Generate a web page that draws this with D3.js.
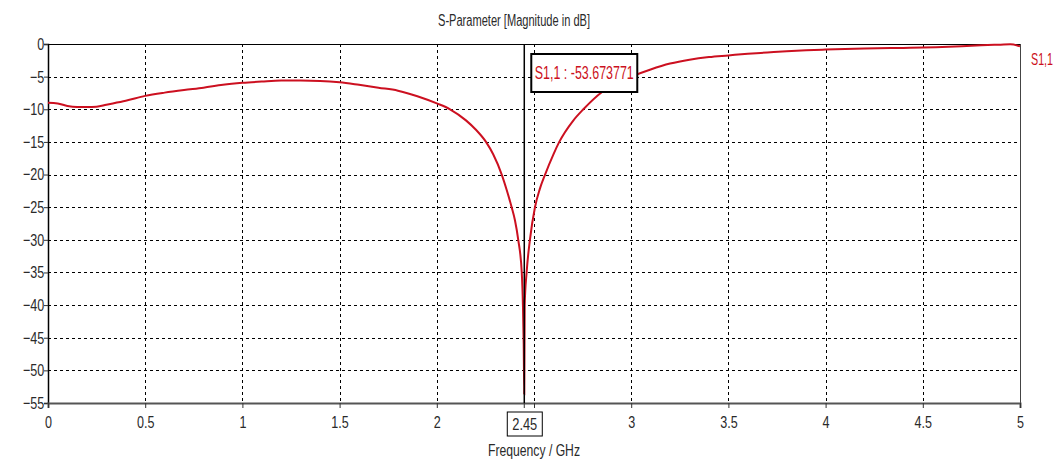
<!DOCTYPE html>
<html>
<head>
<meta charset="utf-8">
<script src="https://cdn.jsdelivr.net/npm/d3@7"></script>
<style>
  body { margin: 0; background: #fff; }
  svg text { font-family: "Liberation Sans", "DejaVu Sans", sans-serif; }
</style>
</head>
<body>
<svg width="1058" height="460"></svg>
<script>
// S1,1 magnitude in dB
var freq = [0, 0.05, 0.1, 0.15, 0.2, 0.25, 0.3, 0.4, 0.5, 0.6, 0.7, 0.8, 0.9, 1.0,
    1.1, 1.2, 1.3, 1.4, 1.5, 1.6, 1.7, 1.8, 1.9, 2.0, 2.068, 2.15, 2.2, 2.253, 2.29, 2.334,
    2.36, 2.385, 2.402, 2.419, 2.437, 2.443, 2.447, 2.45, 2.452, 2.462, 2.479, 2.505,
    2.53, 2.557, 2.6, 2.63, 2.7, 2.754, 2.85, 2.93, 3.0, 3.1, 3.2, 3.3, 3.4, 3.5,
    3.6, 3.7, 3.8, 3.9, 4.0, 4.2, 4.4, 4.5, 4.6, 4.7, 4.8, 4.9, 4.95, 5.0];
var s11 = [-9.0, -9.1, -9.5, -9.65, -9.65, -9.6, -9.3, -8.7, -7.95, -7.45, -7.05, -6.7, -6.25, -5.95,
    -5.75, -5.6, -5.6, -5.65, -5.85, -6.25, -6.7, -7.15, -8.0, -9.1, -10, -11.7, -13.1, -15, -16.9, -20,
    -22.4, -25, -27, -30, -35, -40, -46, -53.673771, -40, -35, -30, -25,
    -22.2, -20, -16.9, -15, -11.8, -10, -7.35, -5.9, -5.0, -3.9, -3.0, -2.4, -2.0, -1.75,
    -1.5, -1.3, -1.1, -0.95, -0.85, -0.7, -0.6, -0.55, -0.45, -0.35, -0.2, -0.1, -0.05, -0.35];

var xTicks = [0, 0.5, 1, 1.5, 2, 2.5, 3, 3.5, 4, 4.5, 5];
var yTicks = [0, -5, -10, -15, -20, -25, -30, -35, -40, -45, -50, -55];
var markerFreq = 2.45;
var markerValue = -53.673771;
var seriesName = "S1,1";

var svg = d3.select("svg");
var red = "#cc1020";
var ink = "#2a2a2a";

var x = d3.scaleLinear().domain([0, 5]).range([48, 1020]);
var y = d3.scaleLinear().domain([0, -55]).range([44, 403]);

// text squeezed horizontally to mimic the narrow UI font
function label(px, py, str, size, width, anchor, color) {
    svg.append("text").attr("x", px).attr("y", py).attr("dy", "0.35em")
        .attr("text-anchor", anchor || "middle")
        .attr("font-size", size).attr("fill", color || ink)
        .attr("textLength", width).attr("lengthAdjust", "spacingAndGlyphs")
        .text(str);
}

// grid
var grid = svg.append("g").attr("class", "grid")
    .attr("stroke", "#000").attr("stroke-width", 1).attr("stroke-dasharray", "3,3");
grid.selectAll("line.v").data(xTicks.slice(1, -1)).enter().append("line")
    .attr("x1", d => Math.round(x(d)) + 0.5).attr("x2", d => Math.round(x(d)) + 0.5)
    .attr("y1", y(0)).attr("y2", y(-55));
grid.selectAll("line.h").data(yTicks.slice(1, -1)).enter().append("line")
    .attr("y1", d => Math.round(y(d)) + 0.5).attr("y2", d => Math.round(y(d)) + 0.5)
    .attr("x1", x(0)).attr("x2", x(5));

// frame: top and right
svg.append("line").attr("x1", x(0)).attr("x2", x(5)).attr("y1", y(0) + 0.5).attr("y2", y(0) + 0.5)
    .attr("stroke", "#000");
svg.append("line").attr("x1", x(5) + 0.5).attr("x2", x(5) + 0.5).attr("y1", y(0)).attr("y2", y(-55))
    .attr("stroke", "#444");

// axes
var yAxis = svg.append("g").attr("transform", "translate(" + x(0) + ",0)")
    .call(d3.axisLeft(y).tickValues(yTicks).tickSize(4).tickPadding(1).tickFormat(d3.format("d")));
var xAxis = svg.append("g").attr("transform", "translate(0," + y(-55) + ")")
    .call(d3.axisBottom(x).tickValues(xTicks).tickSize(5).tickPadding(8)
        .tickFormat(d => d === 2.5 ? "" : d));
yAxis.select(".domain").attr("stroke", "#000").attr("stroke-width", 1.5);
xAxis.select(".domain").attr("stroke", "#555").attr("stroke-width", 2);
[xAxis, yAxis].forEach(a => {
    a.selectAll("text").attr("font-size", 17).attr("fill", ink)
        .style("font-family", "'Liberation Sans', 'DejaVu Sans', sans-serif")
        .attr("transform", "scale(0.74,1)");
    a.selectAll(".tick line").attr("stroke", "#333");
});

// curve
var line = d3.line()
    .x((d, i) => x(freq[i]))
    .y(d => y(d))
    .curve(d3.curveMonotoneX);
svg.append("path").datum(s11)
    .attr("d", line)
    .attr("fill", "none")
    .attr("stroke", red)
    .attr("stroke-width", 2);

// marker line
svg.append("line")
    .attr("x1", x(markerFreq)).attr("x2", x(markerFreq))
    .attr("y1", y(0)).attr("y2", y(-55))
    .attr("stroke", "#000").attr("stroke-width", 1.5);
svg.append("line")
    .attr("x1", x(markerFreq)).attr("x2", x(markerFreq))
    .attr("y1", y(-55)).attr("y2", y(-55) + 5)
    .attr("stroke", "#333");

// marker label box
var bx = x(markerFreq) + 7;
svg.append("rect").attr("x", bx).attr("y", 54).attr("width", 106).attr("height", 38)
    .attr("fill", "#fff").attr("stroke", "#000").attr("stroke-width", 2);
label(bx + 53, 73, seriesName + " : " + markerValue.toFixed(6), 18, 99, "middle", red);

// marker frequency box on x axis
var fx = x(markerFreq);
svg.append("rect").attr("x", fx - 17).attr("y", y(-55) + 9).attr("width", 35).attr("height", 24)
    .attr("fill", "#fff").attr("stroke", "#000").attr("stroke-width", 1);
label(fx + 0.5, y(-55) + 21, String(markerFreq), 17, 25, "middle");

// legend
label(1031, 59, seriesName, 17, 22, "start", red);

// titles
label(514, 20, "S-Parameter [Magnitude in dB]", 16, 152, "middle");
label(534, 450, "Frequency / GHz", 16, 92, "middle");
</script>
</body>
</html>
